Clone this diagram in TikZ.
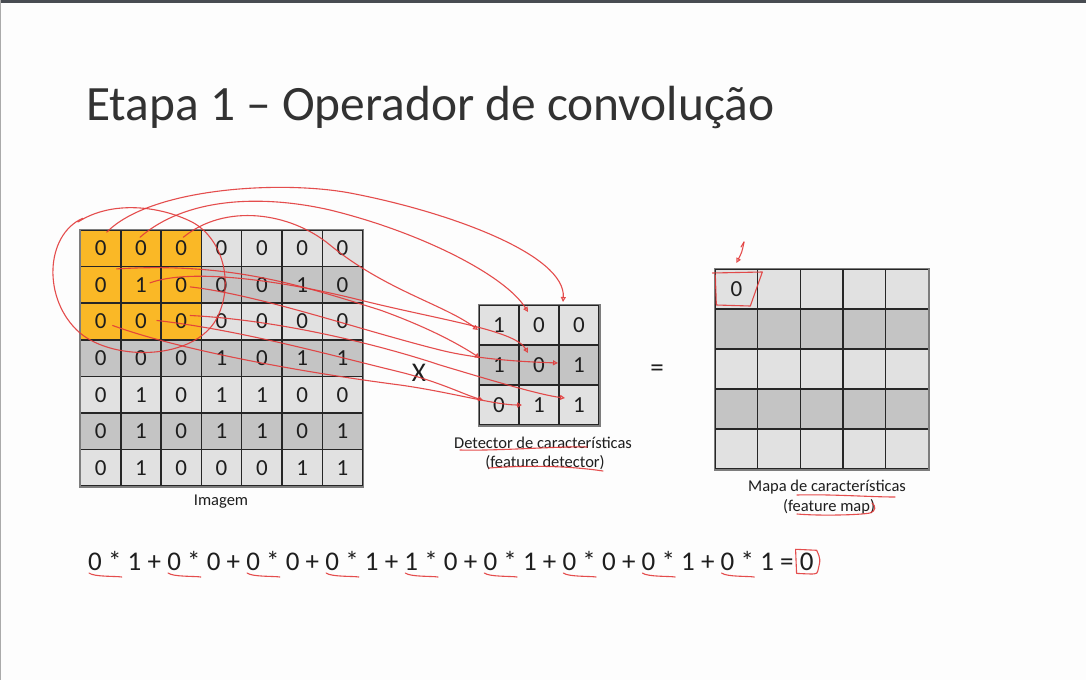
\documentclass[tikz,border=0pt]{standalone}
\usepackage{fontspec}
\setmainfont{Carlito}
\usetikzlibrary{arrows.meta}

\definecolor{slideBg}{RGB}{253,253,253}
\definecolor{frameTop}{RGB}{72,76,82}
\definecolor{frameSide}{RGB}{170,170,170}
\definecolor{cellLight}{RGB}{225,225,225}
\definecolor{cellDark}{RGB}{196,196,196}
\definecolor{cellOrange}{RGB}{250,184,38}
\definecolor{gridLine}{RGB}{38,38,38}
\definecolor{gridEdge}{RGB}{125,125,125}
\definecolor{inkRed}{RGB}{226,58,58}
\definecolor{textDark}{RGB}{30,30,30}
\definecolor{titleGray}{RGB}{50,50,50}

\begin{document}
\begin{tikzpicture}[x=1pt,y=-1pt,
  basecell/.style={draw=gridLine,line width=1.5pt,inner sep=0pt,text=textDark,
    font=\fontsize{23}{23}\selectfont},
  imgcell/.style={basecell,minimum width=40.3pt,minimum height=36.6pt},
  detcell/.style={basecell,minimum width=40pt,minimum height=40pt},
  mapcell/.style={basecell,minimum width=42.66pt,minimum height=40pt},
  caption/.style={font=\fontsize{16.5}{18}\selectfont,text=textDark,inner sep=0pt},
  eqtok/.style={font=\fontsize{27}{27}\selectfont,text=textDark,inner sep=0pt,anchor=base west},
  ink/.style={draw=inkRed,line width=1.1pt,line cap=round,line join=round,opacity=0.9},
  inkarrow/.style={ink,-{Triangle[open,length=5pt,width=5pt]}}
]
\useasboundingbox (0,0) rectangle (1086,680);
\fill[slideBg] (0,0) rectangle (1086,680);
\fill[frameTop] (0,0) rectangle (1086,2.5);
\draw[frameSide,line width=1pt] (0.5,0) -- (0.5,680);

% title
\node[anchor=base west,inner sep=0pt,text=titleGray,font=\fontsize{49.4}{50}\selectfont]
  (title) at (86,120) {Etapa 1 – Operador de convolução};

% input image, 7x7
\foreach \row [count=\r] in {{0,0,0,0,0,0,0},{0,1,0,0,0,1,0},{0,0,0,0,0,0,0},
    {0,0,0,1,0,1,1},{0,1,0,1,1,0,0},{0,1,0,1,1,0,1},{0,1,0,0,0,1,1}}{
  \foreach \v [count=\c] in \row {
    \ifodd\r \def\fc{cellLight}\else\def\fc{cellDark}\fi
    \ifnum\r<4 \ifnum\c<4 \def\fc{cellOrange}\fi\fi
    \node[imgcell,fill=\fc] (img-\r-\c) at ({80.5+40.3*(\c-0.5)},{230+36.6*(\r-0.5)}) {\v};
  }
}
\draw[gridEdge,line width=1.5pt] (img-1-1.north west) rectangle (img-7-7.south east);
\node[caption] (imgcap) at (221,502) {Imagem};

% feature detector, 3x3
\foreach \row [count=\r] in {{1,0,0},{1,0,1},{0,1,1}}{
  \foreach \v [count=\c] in \row {
    \ifodd\r \def\fc{cellLight}\else\def\fc{cellDark}\fi
    \node[detcell,fill=\fc] (det-\r-\c) at ({479+40*(\c-0.5)},{305+40*(\r-0.5)}) {\v};
  }
}
\draw[gridEdge,line width=1.5pt] (det-1-1.north west) rectangle (det-3-3.south east);
\node[caption] (detcap1) at (543,443) {Detector de características};
\node[caption] (detcap2) at (545,463) {(feature detector)};

% operators
\node[inner sep=0pt,text=textDark,font=\fontsize{27}{27}\selectfont] (times) at (419,373) {X};
\node[inner sep=0pt,text=textDark,font=\fontsize{27}{27}\selectfont] (equals) at (657,371) {=};

% feature map, 5x5
\foreach \r in {1,...,5}{
  \foreach \c in {1,...,5}{
    \ifodd\r \def\fc{cellLight}\else\def\fc{cellDark}\fi
    \node[mapcell,fill=\fc] (map-\r-\c) at ({715+42.66*(\c-0.5)},{269+40*(\r-0.5)}) {};
  }
}
\draw[gridEdge,line width=1.5pt] (map-1-1.north west) rectangle (map-5-5.south east);
\node[basecell,draw=none] (map-val) at (map-1-1) {0};
\node[caption] (mapcap1) at (827,487) {Mapa de características};
\node[caption] (mapcap2) at (829,507) {(feature map)};

% the worked sum, one token per node
\foreach \t [count=\i] in {0,*,1,+,0,*,0,+,0,*,0,+,0,*,1,+,1,*,0,+,0,*,1,+,0,*,0,+,0,*,1,+,0,*,1,=,0}{
  \ifnum\i=1
    \node[eqtok] (e1) at (88,570) {\t};
  \else
    \pgfmathtruncatemacro\prev{\i-1}
    \node[eqtok] (e\i) at ([xshift=5.8pt]e\prev.base east) {\t};
  \fi
}

% ---- red pen annotations ----
% loop around the 3x3 window
\draw[ink] ([shift={(-18,-30)}]img-1-1.center)
  .. controls (45,235) and (42,300) .. (80,333)
  .. controls (115,362) and (195,360) .. (217,318)
  .. controls (235,282) and (222,238) .. (192,222)
  .. controls (160,206) and (112,200) .. (78,222);

% window cells to detector cells
\draw[inkarrow] ([shift={(6,-16)}]img-1-1.center)
  .. controls (150,188) and (280,180) .. (350,193)
  .. controls (450,212) and (566,255) .. ([shift={(-16,-23)}]det-1-3.center);
\draw[inkarrow] ([shift={(-1,-11)}]img-1-2.center)
  .. controls (185,198) and (260,194) .. (330,210)
  .. controls (420,232) and (505,275) .. ([shift={(-11,-13)}]det-1-2.center);
\draw[inkarrow] ([shift={(2,-11)}]img-1-3.center)
  .. controls (225,203) and (290,212) .. (330,245)
  .. controls (385,290) and (445,305) .. ([shift={(-21,5)}]det-1-1.center);
\draw[inkarrow] ([shift={(16,-16)}]img-2-1.center)
  .. controls (230,262) and (300,285) .. (380,310)
  .. controls (430,328) and (460,345) .. ([shift={(-19,-7)}]det-2-1.center);
\draw[inkarrow] ([shift={(9,-2)}]img-2-2.center)
  .. controls (190,268) and (280,280) .. (360,300)
  .. controls (440,320) and (515,330) .. ([shift={(-11,-12)}]det-2-2.center);
\draw[inkarrow] ([shift={(9,2)}]img-2-3.center)
  .. controls (260,295) and (360,330) .. (440,350)
  .. controls (480,360) and (530,362) .. ([shift={(-21,-2)}]det-2-3.center);
\draw[inkarrow] ([shift={(12,4)}]img-3-1.center)
  .. controls (180,350) and (300,372) .. (400,385)
  .. controls (450,392) and (495,405) .. ([shift={(-17,0)}]det-3-2.center);
\draw[inkarrow] ([shift={(16,-1)}]img-3-2.center)
  .. controls (240,330) and (330,355) .. (400,372)
  .. controls (440,382) and (465,395) .. ([shift={(-16,-5)}]det-3-1.center);
\draw[inkarrow] ([shift={(9,-6)}]img-3-3.center)
  .. controls (280,320) and (380,345) .. (440,365)
  .. controls (490,380) and (540,395) .. ([shift={(-14,-7)}]det-3-3.center);

% caption underlines
\draw[ink] ([shift={(-83,7)}]detcap1.center) .. controls (500,451) and (560,446) .. ([shift={(44,4)}]detcap1.center);
\draw[ink] ([shift={(-56,5)}]detcap2.center) .. controls (530,465) and (570,466) .. ([shift={(58,8)}]detcap2.center);
\draw[ink] ([shift={(-30,8)}]mapcap1.center) .. controls (830,494) and (870,497) .. ([shift={(68,10)}]mapcap1.center);
\draw[ink] ([shift={(-32,7)}]mapcap2.center) .. controls (820,516) and (860,515) .. ([shift={(41,6)}]mapcap2.center)
  .. controls (876,511) and (876,506) .. ([shift={(43,-4)}]mapcap2.center);

% mark on the first output cell
\draw[ink] ([shift={(-24,-16)}]map-1-1.center) -- ([shift={(26,-17)}]map-1-1.center)
  -- ([shift={(14,17)}]map-1-1.center) -- ([shift={(-20,16)}]map-1-1.center)
  -- ([shift={(-21,-14)}]map-1-1.center);
\draw[ink] (741,247) -- (744,242);
\draw[inkarrow] (744,242) .. controls (742,252) .. ([shift={(0,-26)}]map-1-1.center);

% underlines in the sum, under each "a *"
\foreach \k in {1,...,9}{
  \pgfmathtruncatemacro\a{4*\k-3}
  \pgfmathtruncatemacro\b{4*\k-2}
  \draw[ink] ([shift={(1,3)}]e\a.base west) .. controls ([shift={(6,7)}]e\a.base west)
    and ([shift={(-6,6)}]e\b.base east) .. ([shift={(0,7)}]e\b.base east);
}
\draw[ink] ([shift={(-4,-3)}]e37.north west) -- ([shift={(-3,3)}]e37.south west)
  .. controls ([shift={(3,4)}]e37.south east) .. ([shift={(4,1)}]e37.south east)
  .. controls ([shift={(7,-2)}]e37.east) .. ([shift={(3,-2)}]e37.north east)
  -- ([shift={(-4,-3)}]e37.north west);
\end{tikzpicture}
\end{document}
